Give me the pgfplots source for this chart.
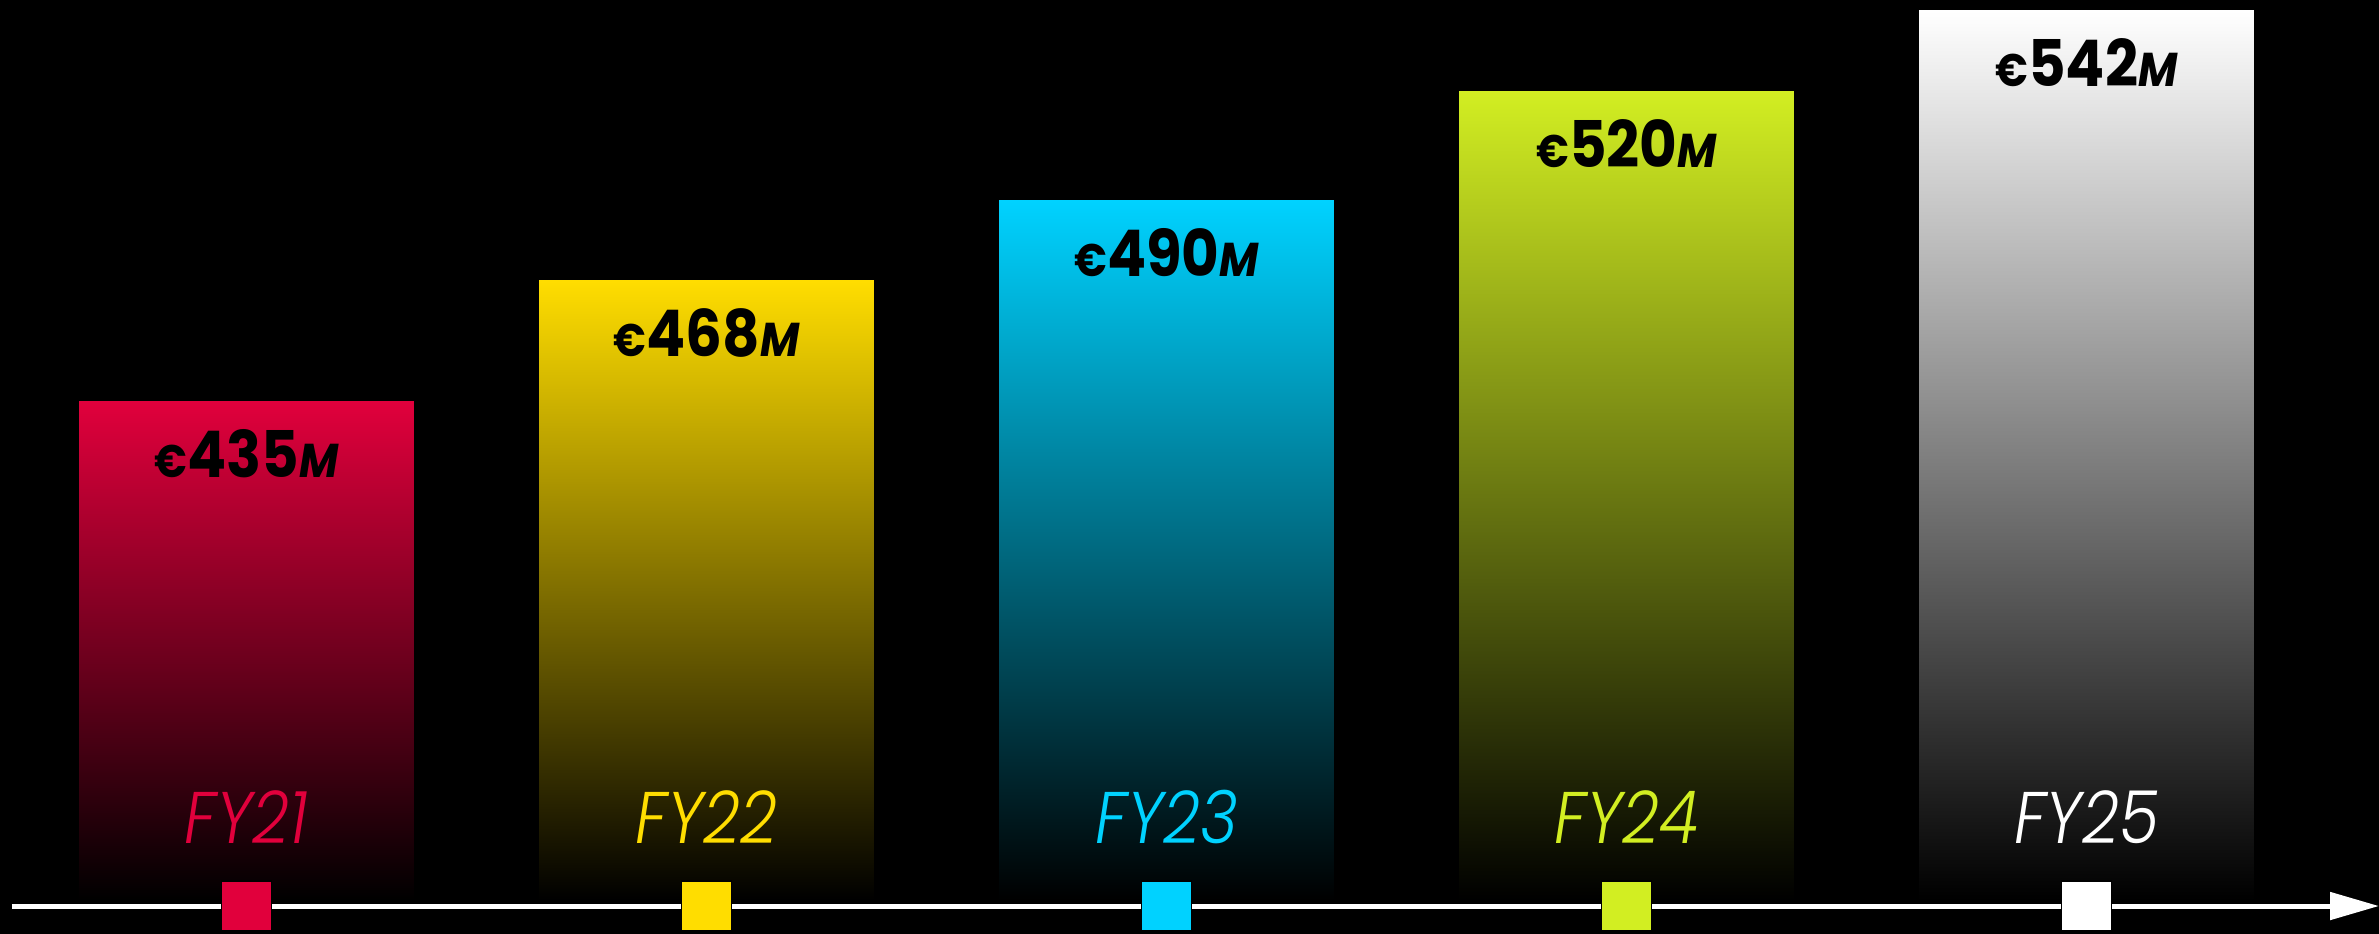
\documentclass[border=0pt]{standalone}
\usepackage{pgfplots}
\pgfplotsset{compat=1.18}
\usepackage{pgfplotstable}
\usetikzlibrary{arrows.meta}
\usepackage{fontspec}
\newfontfamily\popb{Poppins}[UprightFont=* Bold, ItalicFont=* Bold Italic]
\newfontfamily\popl{Poppins}[UprightFont=* Light, ItalicFont=* Light Italic]

\definecolor{c0}{HTML}{E1003C}
\definecolor{c1}{HTML}{FFDD00}
\definecolor{c2}{HTML}{00D2FF}
\definecolor{c3}{HTML}{D2EE22}
\definecolor{c4}{HTML}{FFFFFF}

\pgfplotstableread{
x val label
0 435 FY21
1 468 FY22
2 490 FY23
3 520 FY24
4 542 FY25
}\revenue

\def\base{298.4}

\begin{document}
\begin{tikzpicture}
\begin{axis}[
  width=23.79cm, height=9.34cm, scale only axis,
  xmin=-0.5359, xmax=4.6359,
  ymin=-9.36, ymax=246.6,
  hide axis, clip=false,
]
\fill[black] (rel axis cs:0,0) rectangle (rel axis cs:1,1);
\coordinate (bl) at (rel axis cs:0,0);
\coordinate (tr) at (rel axis cs:1,1);
\draw[white, line width=0.05cm, -{Triangle[length=0.49cm, width=0.27cm]}]
  (axis cs:-0.51,-1.7) -- (axis cs:4.6359,-1.7);
\pgfplotsinvokeforeach{0,...,4}{
  \addplot[ybar, bar width=0.728, bar shift=0pt, draw=none,
    top color=c#1, bottom color=black,
    restrict x to domain=#1:#1,
    point meta=\thisrow{val},
    nodes near coords={\scalebox{0.9}[1]{{\fontsize{13}{15}\selectfont €}\pgfmathprintnumber[assume math mode=true]{\pgfplotspointmeta}{\itshape\fontsize{13.5}{15}\selectfont M}}},
    every node near coord/.append style={anchor=center, yshift=-0.52cm, text=black,
      font=\popb\fontsize{18.3}{20}\selectfont, inner sep=0pt}]
    table[x=x, y expr=\thisrow{val}-\base] {\revenue};
  \addplot[only marks, mark=square*, mark size=0.25cm,
    mark options={fill=c#1, draw=none},
    restrict x to domain=#1:#1,
    point meta=explicit symbolic,
    nodes near coords={\scalebox{0.88}[1]{\pgfplotspointmeta}},
    every node near coord/.append style={anchor=center, yshift=0.89cm, text=c#1,
      font=\popl\itshape\fontsize{20.8}{24}\selectfont, inner sep=0pt}]
    table[x=x, y expr=-1.7, meta=label] {\revenue};
}
\end{axis}
\pgfresetboundingbox
\useasboundingbox (bl) rectangle (tr);
\end{tikzpicture}
\end{document}
